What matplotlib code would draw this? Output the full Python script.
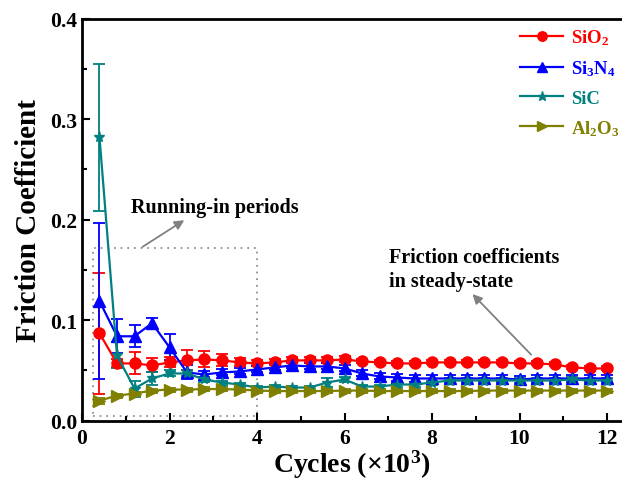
import numpy as np
import matplotlib
matplotlib.use("Agg")
import matplotlib.pyplot as plt
from matplotlib.ticker import MultipleLocator, FormatStrFormatter
from matplotlib.patches import Rectangle
from matplotlib.lines import Line2D

plt.rcParams['font.family'] = ['Liberation Serif', 'DejaVu Serif']
plt.rcParams['font.weight'] = 'bold'
plt.rcParams['mathtext.fontset'] = 'custom'
plt.rcParams['mathtext.rm'] = 'Liberation Serif:bold'
plt.rcParams['mathtext.it'] = 'Liberation Serif:bold'
plt.rcParams['mathtext.bf'] = 'Liberation Serif:bold'

# cycles (x10^3)
cycles = [0.4, 0.8, 1.2, 1.6, 2.0, 2.4, 2.8, 3.2, 3.6, 4.0,
          4.4, 4.8, 5.2, 5.6, 6.0, 6.4, 6.8, 7.2, 7.6, 8.0,
          8.4, 8.8, 9.2, 9.6, 10.0, 10.4, 10.8, 11.2, 11.6, 12.0]

sio2 = [0.087, 0.057, 0.057, 0.055, 0.058, 0.060, 0.061, 0.060, 0.058, 0.057,
        0.058, 0.060, 0.060, 0.060, 0.061, 0.059, 0.058, 0.057, 0.057, 0.058,
        0.058, 0.058, 0.058, 0.058, 0.057, 0.057, 0.056, 0.053, 0.052, 0.052]
sio2_err = [0.060, 0.004, 0.011, 0.007, 0.005, 0.010, 0.008, 0.006, 0.004, 0.003,
            0.003, 0.003, 0.003, 0.003, 0.003, 0.002, 0.002, 0.002, 0.002, 0.002,
            0.002, 0.002, 0.002, 0.002, 0.002, 0.002, 0.002, 0.002, 0.002, 0.002]

si3n4 = [0.119, 0.084, 0.084, 0.097, 0.073, 0.048, 0.046, 0.048, 0.049, 0.051,
         0.053, 0.055, 0.054, 0.054, 0.052, 0.047, 0.044, 0.043, 0.042, 0.042,
         0.042, 0.042, 0.042, 0.042, 0.041, 0.042, 0.042, 0.042, 0.042, 0.042]
si3n4_err = [0.078, 0.017, 0.011, 0.005, 0.013, 0.007, 0.003, 0.003, 0.003, 0.003,
             0.003, 0.003, 0.003, 0.003, 0.003, 0.003, 0.003, 0.003, 0.003, 0.003,
             0.003, 0.003, 0.003, 0.003, 0.003, 0.003, 0.003, 0.003, 0.003, 0.003]

sic = [0.282, 0.065, 0.032, 0.042, 0.047, 0.047, 0.041, 0.038, 0.036, 0.033,
       0.034, 0.033, 0.033, 0.038, 0.041, 0.034, 0.034, 0.036, 0.036, 0.038,
       0.040, 0.040, 0.040, 0.040, 0.040, 0.040, 0.040, 0.041, 0.040, 0.040]
sic_err = [0.073, 0.013, 0.008, 0.006, 0.003, 0.003, 0.002, 0.002, 0.002, 0.002,
           0.002, 0.002, 0.002, 0.004, 0.002, 0.002, 0.002, 0.002, 0.002, 0.002,
           0.002, 0.002, 0.002, 0.002, 0.002, 0.002, 0.002, 0.002, 0.002, 0.002]

al2o3 = [0.020, 0.025, 0.027, 0.030, 0.031, 0.031, 0.0315, 0.0315, 0.031, 0.030,
         0.0295, 0.0295, 0.0295, 0.0295, 0.030, 0.030, 0.0295, 0.0295, 0.0295, 0.0295,
         0.0295, 0.0295, 0.030, 0.030, 0.030, 0.030, 0.030, 0.030, 0.030, 0.030]
al2o3_err = [0.003, 0.002, 0.002, 0.002, 0.002, 0.002, 0.002, 0.002, 0.002, 0.002,
             0.002, 0.002, 0.002, 0.002, 0.002, 0.002, 0.002, 0.002, 0.002, 0.002,
             0.002, 0.002, 0.002, 0.002, 0.002, 0.002, 0.002, 0.002, 0.002, 0.002]

series = [
    ("SiO$_2$", sio2, sio2_err, "#FF0000", "o", 8),
    ("Si$_3$N$_4$", si3n4, si3n4_err, "#0000FF", "^", 8.5),
    ("SiC", sic, sic_err, "#008080", "*", 8),
    ("Al$_2$O$_3$", al2o3, al2o3_err, "#808000", ">", 8),
]

fig = plt.figure(figsize=(6.22, 4.81), dpi=100)
ax = fig.add_axes([82 / 622, 1 - 421.7 / 481, 1 - 82 / 622, (421.7 - 19.7) / 481])

handles = []
for name, vals, err, col, mk, ms in series:
    ax.errorbar(cycles, vals, yerr=err, color=col, marker=mk, markersize=ms,
                linewidth=1.6, elinewidth=1.3, capsize=4, capthick=1.3)
    handles.append(Line2D([], [], color=col, marker=mk, markersize=ms * 0.85,
                          linewidth=1.6, label=name))

# running-in box
ax.add_patch(Rectangle((0.25, 0.005), 3.75, 0.167, fill=False,
                       edgecolor='#808080', linestyle=(0, (1, 3)), linewidth=1.2))

ax.annotate("", xy=(2.39, 0.201), xytext=(1.33, 0.1715),
            arrowprops=dict(arrowstyle='-|>', color='#808080', lw=1.3,
                            mutation_scale=14))
ax.text(1.11, 0.208, "Running-in periods", fontsize=14.5, fontweight='bold')

ax.annotate("", xy=(8.88, 0.128), xytext=(10.31, 0.0637),
            arrowprops=dict(arrowstyle='-|>', color='#808080', lw=1.3,
                            mutation_scale=14))
ax.text(7.02, 0.1337, "Friction coefficients\nin steady-state", fontsize=14.5,
        fontweight='bold', va='baseline', linespacing=1.3)

ax.set_xlim(0, (622 - 82) / 43.75)
ax.set_ylim(0, 0.4)
ax.xaxis.set_major_locator(MultipleLocator(2))
ax.xaxis.set_minor_locator(MultipleLocator(1))
ax.yaxis.set_major_locator(MultipleLocator(0.1))
ax.yaxis.set_minor_locator(MultipleLocator(0.05))
ax.yaxis.set_major_formatter(FormatStrFormatter('%.1f'))
ax.tick_params(which='both', direction='in', width=1.5, labelsize=15.5)
ax.tick_params(which='major', length=6)
ax.tick_params(which='minor', length=3.5)
ax.tick_params(axis='x', pad=5)
for lab in ax.get_xticklabels() + ax.get_yticklabels():
    lab.set_fontweight('bold')
for s in ['left', 'bottom', 'top']:
    ax.spines[s].set_linewidth(2)
ax.spines['right'].set_visible(False)

ax.set_xlabel("Cycles (×10$^3$)", fontsize=20, fontweight='bold', labelpad=0)
ax.set_ylabel("Friction Coefficient", fontsize=21, fontweight='bold', labelpad=6)

leg = ax.legend(handles=handles, loc='upper left',
                bbox_to_anchor=((520 - 82) / 540, 1 - 9 / 402),
                frameon=False, fontsize=13.5, handlelength=2.3,
                handletextpad=0.4, labelspacing=0.6, borderpad=0,
                borderaxespad=0)
for text, (_, _, _, col, _, _) in zip(leg.get_texts(), series):
    text.set_color(col)

fig.savefig("out.png", dpi=100)
